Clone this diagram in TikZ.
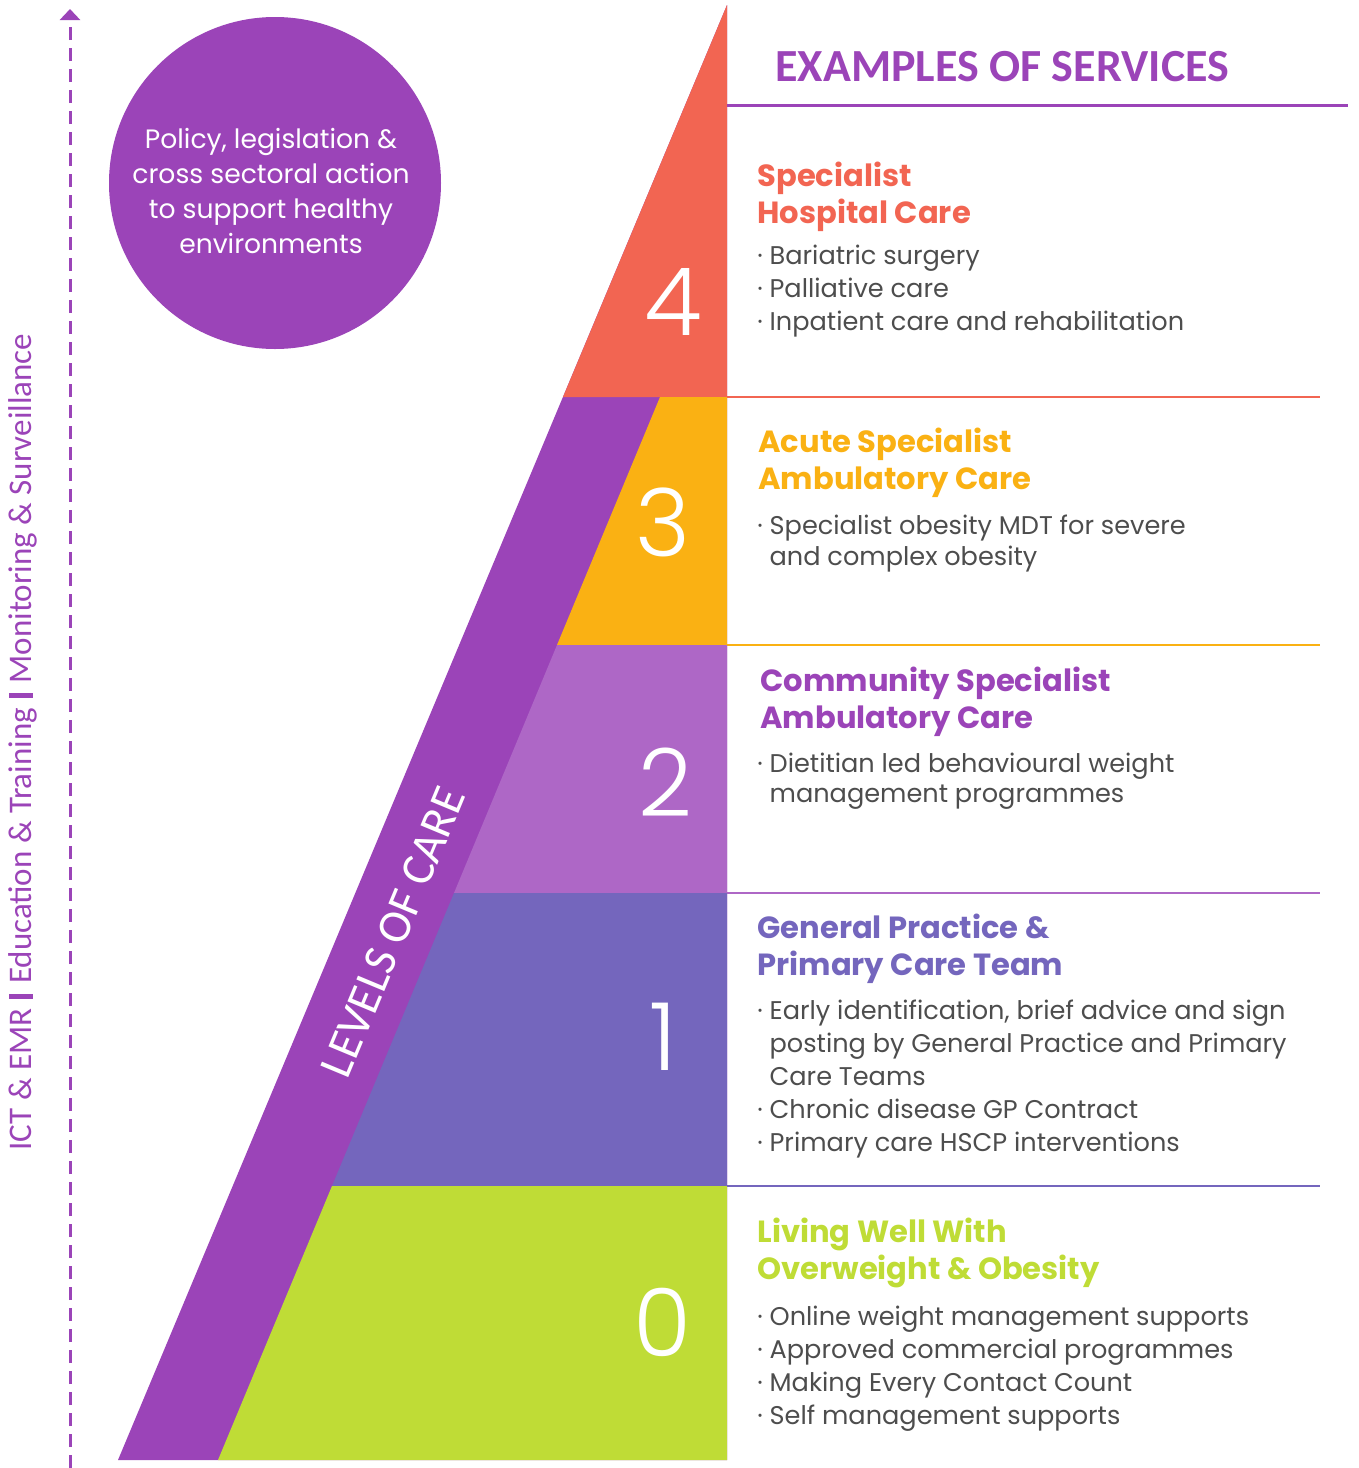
\documentclass[tikz,border=0pt]{standalone}
\usepackage{fontspec}
\setmainfont{Poppins}
\newfontfamily\calfont{Carlito}
\newfontfamily\thinfont{Poppins Light}
\usetikzlibrary{arrows.meta}
\definecolor{grape}{RGB}{155, 68, 184}
\definecolor{tomatored}{RGB}{242, 101, 82}
\definecolor{amberyellow}{RGB}{250, 177, 19}
\definecolor{orchidlight}{RGB}{174, 103, 198}
\definecolor{slatepurple}{RGB}{116, 102, 189}
\definecolor{limegreen}{RGB}{191, 220, 54}
\definecolor{inkgray}{RGB}{77, 77, 77}
\tikzset{
  digit/.style={text=white, inner sep=0pt, font=\thinfont\fontsize{47}{47}\selectfont},
  head/.style={anchor=base west, align=left, inner sep=0pt, font=\bfseries\fontsize{15.3}{18.5}\selectfont},
  items/.style={anchor=base west, align=left, inner sep=0pt, text=inkgray, font=\fontsize{12.8}{16.4}\selectfont},
  rule/.style={line width=1pt},
}
\newcommand{\bul}{\textperiodcentered\ }
\newcommand{\hang}{\hphantom{\textperiodcentered\ }}
\newcommand{\sepbar}{\hspace{0.3em}\rule[-0.6pt]{2.4pt}{12pt}\hspace{0.3em}}
\begin{document}
\begin{tikzpicture}[x=0.5pt, y=-0.5pt]
            \useasboundingbox (0,0) rectangle (1359,1468);
            % Pyramid
            \fill[grape]       (727,5) -- (118,1460) -- (727,1460) -- cycle;
            \fill[tomatored]   (727,5) -- (563,397) -- (727,397) -- cycle;
            \fill[amberyellow] (660,397) -- (557,645) -- (727,645) -- (727,397) -- cycle;
            \fill[orchidlight] (557,645) -- (454,893) -- (727,893) -- (727,645) -- cycle;
            \fill[slatepurple] (454,893) -- (332,1186) -- (727,1186) -- (727,893) -- cycle;
            \fill[limegreen]   (332,1186) -- (218,1460) -- (727,1460) -- (727,1186) -- cycle;
            % Level numbers
            \node[digit] (n4) at (673,302) {4};
            \node[digit] (n3) at (663,522) {3};
            \node[digit] (n2) at (665,782) {2};
            \node[digit] (n1) at (663,1037) {1};
            \node[digit] (n0) at (662,1322) {0};
            \node[text=white, inner sep=0pt, rotate=67.4, font=\calfont\fontsize{23.5}{23.5}\selectfont] (levels) at (393,932) {LEVELS OF CARE};
            % Side arrow
            \coordinate (arrowbot) at (70,1468);
            \coordinate (arrowtop) at (70,9);
            \draw[grape, line width=1.5pt, dash pattern=on 6.5pt off 4pt, -{Triangle[width=10pt,length=5.5pt]}] (arrowbot) -- (arrowtop);
            \node[text=grape, inner sep=0pt, rotate=90, font=\calfont\fontsize{16.5}{16.5}\selectfont] (strands) at (23,742)
              {ICT \& EMR\sepbar Education \& Training\sepbar Monitoring \& Surveillance};
            % Policy circle
            \fill[grape] (275,183) circle (166);
            \node[text=white, align=center, inner sep=0pt, font=\fontsize{13.3}{17.5}\selectfont] (policy) at (271,191)
              {Policy, legislation \&\\cross sectoral action\\to support healthy\\environments};
            % Services
            \node[anchor=base west, inner sep=0pt, text=grape, font=\calfont\bfseries\fontsize{23}{23}\selectfont] (title) at (775,81) {EXAMPLES OF SERVICES};
            \draw[grape, line width=1.5pt] (727,105) -- (1348,105);
            \draw[rule, tomatored]   (727,397) -- (1320,397);
            \draw[rule, amberyellow] (727,645) -- (1320,645);
            \draw[rule, orchidlight] (727,893) -- (1320,893);
            \draw[rule, slatepurple] (727,1186) -- (1320,1186);
            % Level 4
            \node[head, text=tomatored] (h4) at (757,223) {Specialist\\Hospital Care};
            \node[items] (i4) at (757,330) {\bul Bariatric surgery\\\bul Palliative care\\\bul Inpatient care and rehabilitation};
            % Level 3
            \node[head, text=amberyellow] (h3) at (758,489) {Acute Specialist\\Ambulatory Care};
            \node[items, font=\fontsize{12.8}{15.5}\selectfont] (i3) at (757,565) {\bul Specialist obesity MDT for severe\\\hang and complex obesity};
            % Level 2
            \node[head, text=grape] (h2) at (760,728) {Community Specialist\\Ambulatory Care};
            \node[items, font=\fontsize{12.8}{15}\selectfont] (i2) at (757,802) {\bul Dietitian led behavioural weight\\\hang management programmes};
            % Level 1
            \node[head, text=slatepurple] (h1) at (757,975) {General Practice \&\\Primary Care Team};
            \node[items] (i1) at (757,1151) {\bul Early identification, brief advice and sign\\\hang posting by General Practice and Primary\\\hang Care Teams\\\bul Chronic disease GP Contract\\\bul Primary care HSCP interventions};
            % Level 0
            \node[head, text=limegreen] (h0) at (757,1279) {Living Well With\\Overweight \& Obesity};
            \node[items] (i0) at (757,1424) {\bul Online weight management supports\\\bul Approved commercial programmes\\\bul Making Every Contact Count\\\bul Self management supports};
\end{tikzpicture}
\end{document}
